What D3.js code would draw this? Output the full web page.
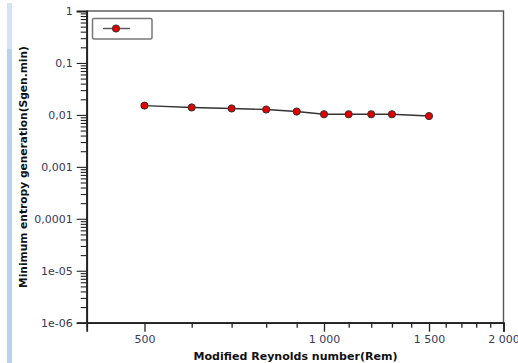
<!DOCTYPE html>
<html>
<head>
<meta charset="utf-8">
<script src="https://cdn.jsdelivr.net/npm/d3@7"></script>
<style>
  html, body { margin: 0; padding: 0; background: #fff; }
  svg { display: block; }
</style>
</head>
<body>
<svg id="chart" width="518" height="363"></svg>
<script>
// Modified Reynolds number vs minimum entropy generation
const reynolds = [500, 600, 700, 800, 900, 1000, 1100, 1200, 1300, 1500];
const sgenMin  = [0.0151, 0.0139, 0.0133, 0.0127, 0.0116, 0.0103, 0.0103, 0.0103, 0.0103, 0.0095];

const xMajorTicks = [500, 1000, 1500, 2000];
const xMinorTicks = [400, 600, 700, 800, 900, 1100, 1200, 1300, 1400, 1600, 1700, 1800, 1900];
const yMajorTicks = [1e-6, 1e-5, 1e-4, 1e-3, 1e-2, 1e-1, 1];
const yTickLabels = ["1e-06", "1e-05", "0,0001", "0,001", "0,01", "0,1", "1"];

const xTitle = "Modified Reynolds number(Rem)";
const yTitle = "Minimum entropy generation(Sgen.min)";

const svg = d3.select("#chart");
const plot = { left: 86.7, right: 503.5, top: 11, bottom: 322.7 };

// window-edge strip on the left
svg.append("rect").attr("x", 7).attr("y", 3).attr("width", 5).attr("height", 360).attr("fill", "#b8d2ee");
svg.append("rect").attr("x", 7).attr("y", 3).attr("width", 5).attr("height", 46).attr("fill", "#d4e4f6");

const x = d3.scaleLog().domain([400, 2000]).range([plot.left, plot.right]);
const y = d3.scaleLog().domain([1e-6, 1]).range([plot.bottom, plot.top]);

const locale = d3.formatLocale({ decimal: ",", thousands: "\u00a0", grouping: [3], currency: ["", ""] });
const fmtX = locale.format(",d");

// frame
svg.append("rect")
  .attr("x", plot.left).attr("y", plot.top)
  .attr("width", plot.right - plot.left).attr("height", plot.bottom - plot.top)
  .attr("fill", "none").attr("stroke", "#555").attr("stroke-width", 1.4);

const tickColor = "#222";
const labelColor = "#38385c";
const font = "'DejaVu Sans', Verdana, sans-serif";

// x axis
const gx = svg.append("g").attr("transform", `translate(0,${plot.bottom})`);
gx.call(d3.axisBottom(x).tickValues(xMinorTicks).tickSize(5).tickFormat(""));
gx.call(g => g.select(".domain").remove());
const gxMajor = svg.append("g").attr("transform", `translate(0,${plot.bottom})`)
  .call(d3.axisBottom(x).tickValues(xMajorTicks).tickSize(9).tickPadding(4).tickFormat(fmtX));
gxMajor.select(".domain").attr("stroke", tickColor).attr("stroke-width", 1.8);
[gx, gxMajor].forEach(g => g.selectAll(".tick line").attr("stroke", tickColor).attr("stroke-width", 1.3));
gxMajor.selectAll(".tick text").attr("fill", labelColor).style("font-family", font).style("font-size", "11px");

// y axis
const yMinor = [];
yMajorTicks.slice(0, -1).forEach(d => { for (let k = 2; k <= 9; k++) yMinor.push(d * k); });
const gy = svg.append("g").attr("transform", `translate(${plot.left},0)`)
  .call(d3.axisLeft(y).tickValues(yMinor).tickSize(6).tickFormat(""));
gy.select(".domain").remove();
const gyMajor = svg.append("g").attr("transform", `translate(${plot.left},0)`)
  .call(d3.axisLeft(y).tickValues(yMajorTicks).tickSize(10).tickPadding(4)
    .tickFormat((d, i) => yTickLabels[i]));
gyMajor.select(".domain").attr("stroke", tickColor).attr("stroke-width", 1.8);
[gy, gyMajor].forEach(g => g.selectAll(".tick line").attr("stroke", tickColor).attr("stroke-width", 1.1));
gyMajor.selectAll(".tick text").attr("fill", labelColor).style("font-family", font).style("font-size", "11px");

// titles, sized to their span
function fitText(sel, width) {
  const w = sel.node().getComputedTextLength();
  const fs = parseFloat(sel.style("font-size"));
  sel.style("font-size", (fs * width / w).toFixed(2) + "px");
}
const xt = svg.append("text")
  .attr("x", 295.5).attr("y", 359.5).attr("text-anchor", "middle")
  .attr("fill", "#111").style("font-family", font).style("font-weight", "bold").style("font-size", "10px")
  .text(xTitle);
fitText(xt, 204);
const yt = svg.append("text")
  .attr("transform", "translate(26.5,167) rotate(-90)").attr("text-anchor", "middle")
  .attr("fill", "#111").style("font-family", font).style("font-weight", "bold").style("font-size", "10px")
  .text(yTitle);
fitText(yt, 242);

// series
const line = d3.line().x(d => x(d[0])).y(d => y(d[1]));
const pts = reynolds.map((r, i) => [r, sgenMin[i]]);
svg.append("path").datum(pts).attr("d", line)
  .attr("fill", "none").attr("stroke", "#333").attr("stroke-width", 1.4);
svg.append("g").selectAll("circle").data(pts).join("circle")
  .attr("cx", d => x(d[0])).attr("cy", d => y(d[1])).attr("r", 3.6)
  .attr("fill", "#e00000").attr("stroke", "#333").attr("stroke-width", 1);

// legend
const lg = svg.append("g");
lg.append("rect").attr("x", 92.5).attr("y", 18.5).attr("width", 59.5).attr("height", 20.5).attr("rx", 1.5)
  .attr("fill", "#fff").attr("stroke", "#777").attr("stroke-width", 1.5);
lg.append("line").attr("x1", 103).attr("x2", 130).attr("y1", 28.5).attr("y2", 28.5)
  .attr("stroke", "#555").attr("stroke-width", 1.4);
lg.append("circle").attr("cx", 116).attr("cy", 28.5).attr("r", 3.6)
  .attr("fill", "#e00000").attr("stroke", "#333").attr("stroke-width", 1);
</script>
</body>
</html>
